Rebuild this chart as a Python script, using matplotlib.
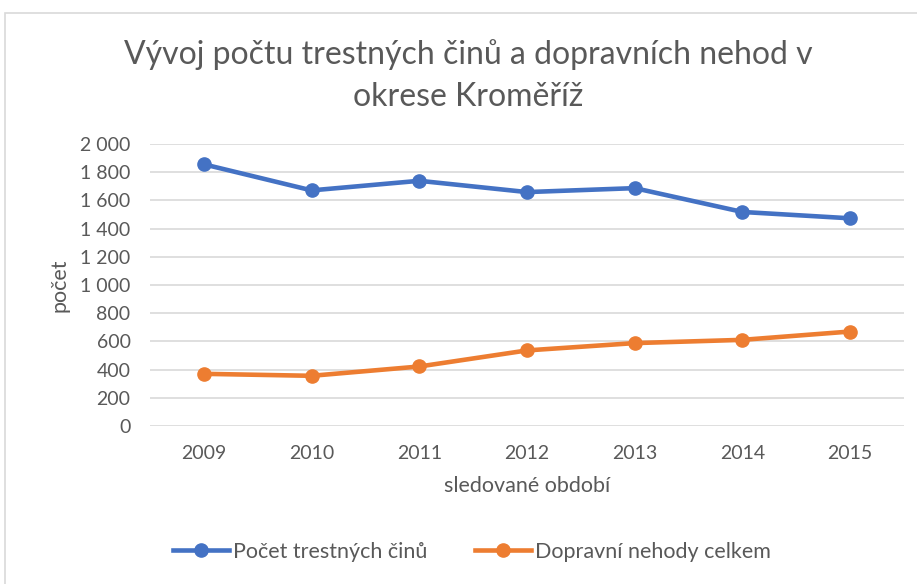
import matplotlib.pyplot as plt
from matplotlib.patches import Rectangle
from matplotlib.ticker import FuncFormatter

# data
years = ['2009', '2010', '2011', '2012', '2013', '2014', '2015']
trestne_ciny = [1856, 1671, 1739, 1659, 1687, 1518, 1473]
nehody = [370, 356, 422, 536, 588, 611, 670]
yticks = [0, 200, 400, 600, 800, 1000, 1200, 1400, 1600, 1800, 2000]

plt.rcParams['font.family'] = ['Lato', 'DejaVu Sans']
grey = '#595959'

fig = plt.figure(figsize=(9.17, 5.84), dpi=100)
# light chart frame like in the office export
fig.patches.append(Rectangle((5/917, -0.1), 1.2, 1 - 13/584 + 0.1, transform=fig.transFigure,
                             fill=False, edgecolor='#D9D9D9', lw=1.2))

ax = fig.add_axes([150/917, 1 - 426/584, 754/917, 282/584])
x = list(range(len(years)))
ax.plot(x, trestne_ciny, color='#4472C4', lw=3.3, marker='o', ms=9.5, label='Počet trestných činů')
ax.plot(x, nehody, color='#ED7D31', lw=3.3, marker='o', ms=9.5, label='Dopravní nehody celkem')

ax.set_xlim(-0.5, len(years) - 0.5)
ax.set_ylim(0, 2000)
ax.set_yticks(yticks)
ax.yaxis.set_major_formatter(FuncFormatter(lambda v, p: f'{int(v):,}'.replace(',', ' ')))
ax.set_xticks(x)
ax.set_xticklabels(years)
ax.grid(axis='y', color='#D9D9D9', lw=1.2)
ax.set_axisbelow(True)
for s in ax.spines.values():
    s.set_visible(False)
ax.tick_params(length=0, labelsize=14, colors=grey, pad=14)
ax.tick_params(axis='x', pad=14)

ax.set_xlabel('sledované období', fontsize=15.5, color=grey, labelpad=10)
ax.set_ylabel('počet', fontsize=15.5, color=grey, labelpad=8)

fig.text(468/917, 1 - 76/584, 'Vývoj počtu trestných činů a dopravních nehod v\nokrese Kroměříž',
         ha='center', va='center', fontsize=23, color=grey, linespacing=1.5)

fig.legend(loc='center', bbox_to_anchor=(472/917, 1 - 552/584), ncol=2, frameon=False,
           fontsize=15.5, labelcolor=grey, handlelength=2.6, columnspacing=2.2, handletextpad=0.2)

fig.savefig('out.png', dpi=100)
